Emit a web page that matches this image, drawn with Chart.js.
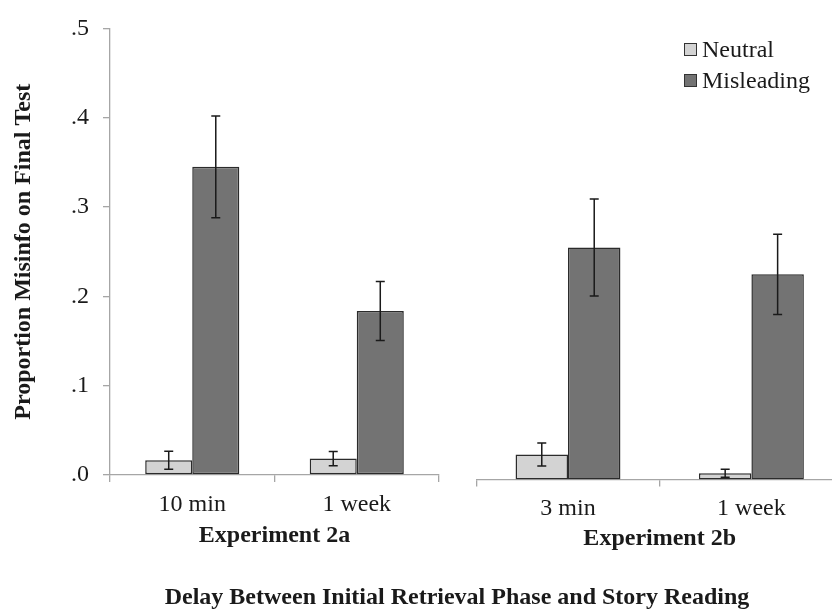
<!DOCTYPE html>
<html>
<head>
<meta charset="utf-8">
<script src="https://cdn.jsdelivr.net/npm/chart.js@4.4.0/dist/chart.umd.min.js"></script>
<style>
  html, body { margin: 0; padding: 0; background: #fff; }
  body { width: 832px; height: 611px; overflow: hidden; position: relative; font-family: "Liberation Serif", "Times New Roman", serif; color: #1a1a1a; }
  canvas { position: absolute; top: 0; }
  #leftChart { left: 0; }
  #rightChart { left: 450px; }
  .legend { position: absolute; left: 684px; font-size: 24px; line-height: 24px; white-space: nowrap; }
  .legend span.box { position: absolute; left: 0; width: 11px; height: 11px; border: 1.2px solid #333; }
  .legend span.txt { position: absolute; left: 18px; top: 0; }
  #mainTitle { position: absolute; left: 0; width: 914px; top: 584px; text-align: center; font-weight: bold; font-size: 24px; line-height: 24px; }
</style>
</head>
<body>
<canvas id="leftChart" width="450" height="611"></canvas>
<canvas id="rightChart" width="400" height="611"></canvas>

<div class="legend" style="top:37px"><span class="box" style="top:6px;background:#d3d3d3"></span><span class="txt">Neutral</span></div>
<div class="legend" style="top:68px"><span class="box" style="top:6px;background:#737373"></span><span class="txt">Misleading</span></div>
<div id="mainTitle">Delay Between Initial Retrieval Phase and Story Reading</div>

<script>
// Experiment 2a
const labels2a = ["10 min", "1 week"];
const neutral2a = [0.0165, 0.0184];
const neutralErr2a = [0.010, 0.008];
const misleading2a = [0.345, 0.1836];
const misleadingErr2a = [0.057, 0.033];

// Experiment 2b
const labels2b = ["3 min", "1 week"];
const neutral2b = [0.0275, 0.0068];
const neutralErr2b = [0.0127, 0.0044];
const misleading2b = [0.2555, 0.226];
const misleadingErr2b = [0.0534, 0.0442];

const yTicks = [0, 0.1, 0.2, 0.3, 0.4, 0.5];

const NEUTRAL = "#d3d3d3";
const MISLEADING = "#737373";
const BORDER = "#2b2b2b";
const AXIS = "#a6a6a6";
const FONT = "'Liberation Serif', 'Times New Roman', serif";

// draws the error bars from the errors stored on each dataset
const errorBars = {
    id: "errorBars",
    afterDatasetsDraw(chart) {
        const ctx = chart.ctx;
        const y = chart.scales.y;
        ctx.save();
        ctx.strokeStyle = "#1a1a1a";
        ctx.lineWidth = 1.5;
        chart.data.datasets.forEach((ds, i) => {
            const meta = chart.getDatasetMeta(i);
            meta.data.forEach((bar, j) => {
                const v = ds.data[j], e = ds.errors[j];
                const top = y.getPixelForValue(v + e);
                const bot = y.getPixelForValue(v - e);
                ctx.beginPath();
                ctx.moveTo(bar.x, top); ctx.lineTo(bar.x, bot);
                ctx.moveTo(bar.x - 4.5, top); ctx.lineTo(bar.x + 4.5, top);
                ctx.moveTo(bar.x - 4.5, bot); ctx.lineTo(bar.x + 4.5, bot);
                ctx.stroke();
            });
        });
        ctx.restore();
    }
};

const makeDatasets = (n, nErr, m, mErr) => [
    {
        label: "Neutral", data: n, errors: nErr,
        backgroundColor: NEUTRAL, borderColor: BORDER, borderWidth: 1.5, borderSkipped: false,
        categoryPercentage: 0.572, barPercentage: 1.0
    },
    {
        label: "Misleading", data: m, errors: mErr,
        backgroundColor: MISLEADING, borderColor: BORDER, borderWidth: 1.5, borderSkipped: false,
        categoryPercentage: 0.572, barPercentage: 1.0
    }
];

const xScale = (title, height, tickPad, titlePad) => ({
    afterFit: (s) => { s.height = height; },
    grid: { display: true, drawOnChartArea: false, drawTicks: true, tickLength: 7, color: AXIS, lineWidth: 1.3, offset: true },
    border: { display: true, color: AXIS, width: 1.3 },
    ticks: { color: "#1a1a1a", padding: tickPad, font: { family: FONT, size: 24 } },
    title: {
        display: true, text: title, color: "#1a1a1a",
        font: { family: FONT, size: 24, weight: "bold" },
        padding: { top: 0, bottom: titlePad }
    }
});

new Chart(document.getElementById("leftChart"), {
    type: "bar",
    data: { labels: labels2a, datasets: makeDatasets(neutral2a, neutralErr2a, misleading2a, misleadingErr2a) },
    options: {
        responsive: false,
        animation: false,
        layout: { padding: { top: 21, right: 11, bottom: 0, left: 0 } },
        plugins: { legend: { display: false }, tooltip: { enabled: false } },
        scales: {
            x: xScale("Experiment 2a", 136, 8, 61),
            y: {
                min: 0, max: 0.5,
                afterFit: (s) => { s.width = 110; },
                afterBuildTicks: (s) => { s.ticks = yTicks.map(v => ({ value: v })); },
                grid: { display: true, drawOnChartArea: false, drawTicks: true, tickLength: 7, color: AXIS, lineWidth: 1.3 },
                border: { display: true, color: AXIS, width: 1.3 },
                ticks: {
                    color: "#1a1a1a", padding: 14, font: { family: FONT, size: 24 },
                    callback: (v) => v.toFixed(1).replace("0.", ".")
                },
                title: {
                    display: true, text: "Proportion Misinfo on Final Test", color: "#1a1a1a",
                    font: { family: FONT, size: 24, weight: "bold" },
                    padding: { top: 9.6, bottom: 0 }
                }
            }
        }
    },
    plugins: [errorBars]
});

new Chart(document.getElementById("rightChart"), {
    type: "bar",
    data: { labels: labels2b, datasets: makeDatasets(neutral2b, neutralErr2b, misleading2b, misleadingErr2b) },
    options: {
        responsive: false,
        animation: false,
        layout: { padding: { top: 25.5, right: 6.9, bottom: 0, left: 26.3 } },
        plugins: { legend: { display: false }, tooltip: { enabled: false } },
        scales: {
            x: xScale("Experiment 2b", 131.5, 8, 57.6),
            y: { min: 0, max: 0.5, display: false }
        }
    },
    plugins: [errorBars]
});
</script>
</body>
</html>
